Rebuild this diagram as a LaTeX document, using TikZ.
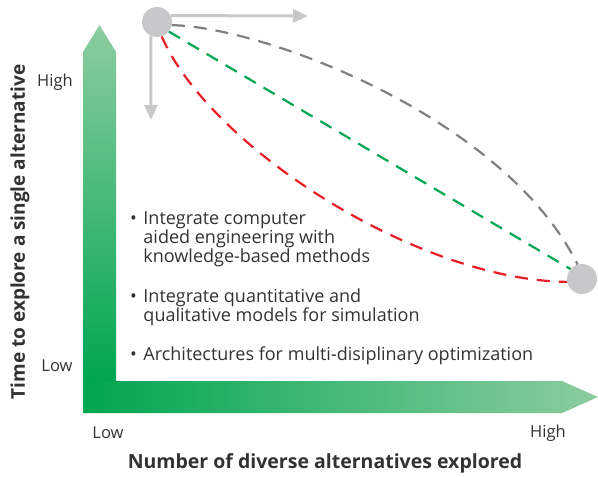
\documentclass[tikz,border=0pt]{standalone}
\usepackage{fontspec}
\setmainfont{Open Sans}
\usetikzlibrary{arrows.meta}
\definecolor{axisdark}{RGB}{0,166,81}
\definecolor{axislight}{RGB}{140,204,160}
\definecolor{dotgray}{RGB}{200,200,202}
\definecolor{pathgray}{RGB}{128,128,128}
\definecolor{pathgreen}{RGB}{0,166,81}
\definecolor{pathred}{RGB}{230,30,40}
\definecolor{inkgray}{RGB}{50,50,50}
\tikzset{
  dot/.style={circle, fill=dotgray, minimum size=30pt, inner sep=0pt},
  probe/.style={draw=dotgray, line width=3pt, -{Triangle[length=15pt, width=13pt]}},
  trail/.style={line width=2.2pt, dash pattern=on 13pt off 9pt},
  tick/.style={font=\fontsize{16.5}{18}\selectfont, text=inkgray},
  axistitle/.style={font=\fontsize{19.5}{22}\selectfont\bfseries, text=inkgray},
  bullet/.style={anchor=base west, font=\fontsize{18}{18.7}\selectfont, text=inkgray, inner sep=0pt}
}
\begin{document}
\begin{tikzpicture}[x=1pt, y=-1pt]
  \useasboundingbox (0,0) rectangle (598,477);
  % axes
  \shade [top color=axislight, bottom color=axisdark] (83,52) -- (99.5,25) -- (116,52) -- (116,382) -- (83,382) -- cycle;
  \shade [left color=axisdark, middle color=axisdark!72!axislight, right color=axislight] (83,381) -- (562,381) -- (598,397) -- (562,413) -- (83,413) -- cycle;

  \node [tick] (yhigh) at (55,82) {High};
  \node [tick] (ylow) at (57,366) {Low};
  \node [tick] (xlow) at (108,433) {Low};
  \node [tick] (xhigh) at (548,433) {High};
  \node [axistitle] (xtitle) at (325,463) {Number of diverse alternatives explored};
  \node [axistitle, font=\fontsize{19}{22}\selectfont\bfseries, rotate=90] (ytitle) at (20,232) {Time to explore a single alternative};

  % search paths
  \node [dot] (start) at (157,22) {};
  \node [dot] (end) at (582,279) {};
  \coordinate (right) at (308,16);
  \coordinate (down) at (151,120);
  \draw [probe] (start.25) -- (right);
  \draw [probe] (start.246) -- (down);
  \draw [trail, pathgray] (start.-12) .. controls (265,27) and (505,118) .. (end.107);
  \draw [trail, pathgreen] (start.-39) -- (end.139);
  \draw [trail, pathred] (start.-72) .. controls (210,147) and (417,280) .. (end.191);

  % research topics
  \node [bullet] (cae) at (130,224.3) {\begin{tabular}[t]{@{}l@{\hspace{6.5pt}}l@{}}\textbullet & Integrate computer\\ & aided engineering with\\ & knowledge-based methods\end{tabular}};
  \node [bullet] (models) at (130,302.3) {\begin{tabular}[t]{@{}l@{\hspace{6.5pt}}l@{}}\textbullet & Integrate quantitative and\\ & qualitative models for simulation\end{tabular}};
  \node [bullet] (mdo) at (130,360.7) {\begin{tabular}[t]{@{}l@{\hspace{6.5pt}}l@{}}\textbullet & Architectures for multi-disiplinary optimization\end{tabular}};
\end{tikzpicture}
\end{document}
